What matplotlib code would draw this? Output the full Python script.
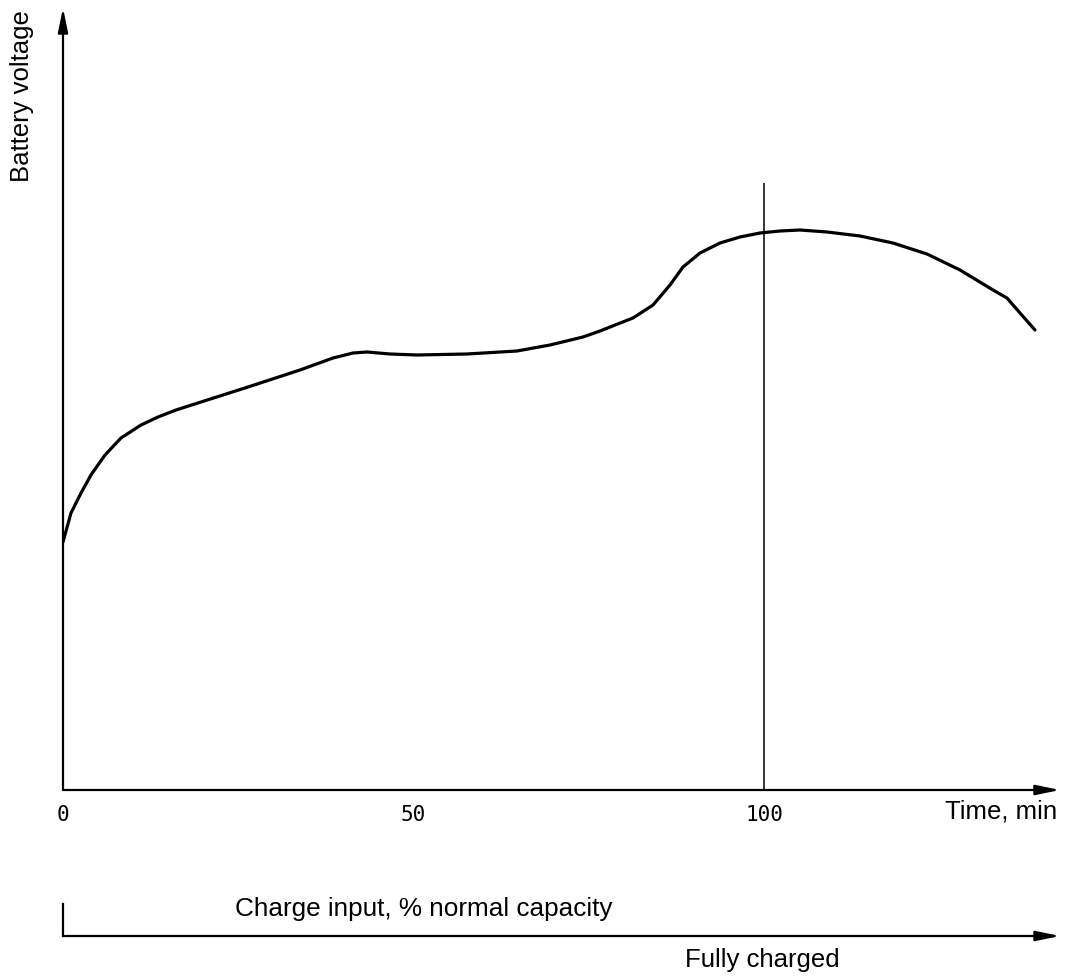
import matplotlib
matplotlib.use('Agg')
import matplotlib.pyplot as plt

# 1 - Curve (time in min, voltage in arbitrary units)

time_min = [0, 1.14, 2.57, 3.99, 5.99, 8.27, 11.13, 13.55, 16.12, 26.39,
            33.81, 38.52, 41.37, 43.37, 46.65, 50.50, 57.63, 64.76, 69.47,
            74.18, 76.6, 81.31, 84.17, 86.59, 88.45, 90.87, 93.72, 96.58,
            99.43, 102.28, 105.14, 108.99, 113.69, 118.40, 123.25, 127.96,
            132.67, 134.66, 136.52, 138.66]
voltage = [248, 277, 297, 315, 335, 352, 365, 373, 380, 403,
           420, 432, 437, 438, 436, 435, 436, 439, 445,
           453, 459, 472, 485, 505, 523, 537, 547, 553,
           557, 559, 560, 558, 554, 547, 536, 520,
           500, 492, 477, 460]

tick_pos = [0, 50, 100]
tick_labels = ['0', '50', '100']
full_charge_time = 100
full_charge_top = 607

W, H = 1067, 976
label_font = 'Liberation Sans'

# 2 - Figure and main axes

fig = plt.figure(figsize=(W / 100, H / 100), dpi=100)
x0, x1 = 63, 1060
y0, y1 = 790, 8
ax = fig.add_axes([x0 / W, (H - y0) / H, (x1 - x0) / W, (y0 - y1) / H])
ax.set_xlim(0, (x1 - x0) / 7.01)
ax.set_ylim(0, y0 - y1)
for s in ax.spines.values():
    s.set_visible(False)

arrow = dict(arrowstyle='-|>,head_length=1.45,head_width=0.3',
             mutation_scale=10, lw=1.6, color='black',
             shrinkA=0, shrinkB=0)
ax.annotate('', xy=(1, 0), xytext=(0, 0), xycoords='axes fraction',
            arrowprops=arrow)
ax.annotate('', xy=(0, 1), xytext=(0, 0), xycoords='axes fraction',
            arrowprops=arrow)

ax.plot(time_min, voltage, color='black', lw=2.3,
        solid_capstyle='round', solid_joinstyle='round')
ax.vlines(full_charge_time, 0, full_charge_top, color='black', lw=1.1)

ax.set_xticks(tick_pos)
ax.set_xticklabels(tick_labels, family=['Liberation Sans Narrow', 'DejaVu Sans Mono'],
                   fontsize=15)
ax.tick_params(axis='x', length=0, pad=11)
ax.set_yticks([])

fig.text(22 / W, 1 - 96 / H, 'Battery voltage', rotation=90,
         ha='center', va='center', family=label_font, fontsize=18.5)
fig.text(1057 / W, 1 - 811 / H, 'Time, min', ha='right', va='center',
         family=label_font, fontsize=18.5)

# 3 - Lower scale: charge input

ly0, ly1 = 936, 904
ax2 = fig.add_axes([x0 / W, (H - ly0) / H, (x1 - x0) / W, (ly0 - ly1) / H])
ax2.set_xlim(ax.get_xlim())
ax2.set_ylim(0, 1)
ax2.axis('off')
ax2.annotate('', xy=(1, 0), xytext=(0, 0), xycoords='axes fraction',
             arrowprops=arrow)
ax2.plot([0, 0], [0, 1], color='black', lw=1.6, clip_on=False)

fig.text(235 / W, 1 - 909 / H, 'Charge input, % normal capacity',
         ha='left', va='center', family=label_font, fontsize=18.8)
fig.text(762 / W, 1 - 960 / H, 'Fully charged', ha='center', va='center',
         family=label_font, fontsize=18.5)

plt.savefig('out.png', dpi=100)
